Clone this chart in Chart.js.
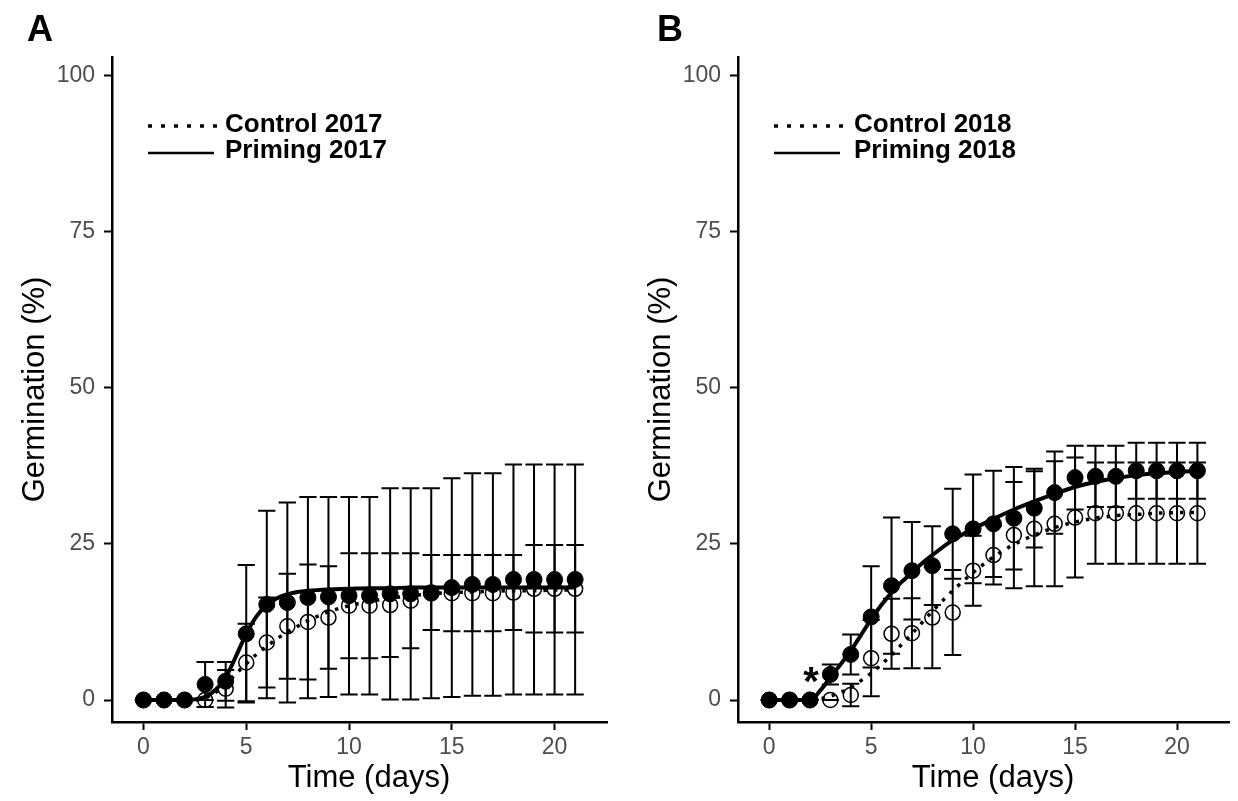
<!DOCTYPE html>
<html>
<head>
<meta charset="utf-8">
<script src="https://cdn.jsdelivr.net/npm/chart.js@4.4.1/dist/chart.umd.min.js"></script>
<style>
  html, body { margin: 0; padding: 0; background: #fff; }
  #wrap { position: relative; width: 1238px; height: 801px; }
  canvas { position: absolute; top: 0; }
</style>
</head>
<body>
<div id="wrap">
  <canvas id="chA" width="619" height="801" style="left:0"></canvas>
  <canvas id="chB" width="619" height="801" style="left:619px"></canvas>
</div>
<script>
const FONT = '"Liberation Sans", Arial, Helvetica, sans-serif';

const days = [0,1,2,3,4,5,6,7,8,9,10,11,12,13,14,15,16,17,18,19,20,21];
const xTicks = [0, 5, 10, 15, 20];
const yTicks = [0, 25, 50, 75, 100];

// Panel A - 2017 (mean and SD, %)
const primingA   = [0,0,0,2.5,3.0,10.6,15.3,15.6,16.4,16.5,16.7,16.7,17.0,17.0,17.1,18.0,18.5,18.5,19.3,19.3,19.3,19.3];
const primingSdA = [0,0,0,3.6,3.1,11.0,15.0,16.0,16.1,16.0,15.8,15.8,16.9,16.9,16.8,17.5,17.8,17.8,18.4,18.4,18.4,18.4];
const controlA   = [0,0,0,0,1.8,6.0,9.2,11.8,12.5,13.2,15.1,15.1,15.2,15.9,17.2,17.1,17.1,17.1,17.2,17.8,17.8,17.8];
const controlSdA = [0,0,0,0,3.0,6.2,7.2,8.4,9.2,8.2,8.4,8.4,8.3,7.6,6.0,6.1,6.1,6.1,6.0,7.0,7.0,7.0];

// Panel B - 2018
const primingB   = [0,0,0,4.1,7.3,13.3,18.3,20.7,21.5,26.6,27.4,28.2,29.1,30.7,33.2,35.6,35.8,35.8,36.7,36.7,36.7,36.7];
const primingSdB = [0,0,0,1.6,3.2,8.1,10.9,7.8,6.3,7.2,8.7,8.5,8.2,6.3,6.6,5.1,4.9,4.9,4.5,4.5,4.5,4.5];
const controlB   = [0,0,0,0,0.8,6.7,10.6,10.7,13.2,14.0,20.7,23.2,26.4,27.4,28.2,29.2,29.9,29.9,29.9,29.9,29.9,29.9];
const controlSdB = [0,0,0,0,1.8,6.1,5.6,5.6,8.1,6.8,5.6,4.7,8.5,9.2,10.0,9.6,8.1,8.1,8.1,8.1,8.1,8.1];

// fitted curves at curveX
const curveX      = [0,1,2,2.5,3,3.5,4,4.5,5,5.5,6,6.5,7,7.5,8,9,10,11,12,13,14,15,16,17,18,19,20,21];
const primingFitA = [0,0,0,0.1,0.5,1.6,3.6,7.0,10.6,13.4,15.2,16.3,16.9,17.3,17.5,17.7,17.8,17.9,17.9,18.0,18.0,18.0,18.0,18.0,18.0,18.0,18.0,18.0];
const controlFitA = [0,0,0,0,0.3,1.2,2.6,4.2,5.8,7.3,8.6,9.8,10.9,11.8,12.7,14.1,15.1,15.8,16.3,16.7,17.0,17.2,17.3,17.4,17.5,17.5,17.6,17.6];
const primingFitB = [0,0,0,1.5,3.6,5.7,7.9,10.4,12.9,15.2,17.2,18.9,20.4,21.9,23.2,25.6,27.4,29.0,30.5,31.8,33.0,34.1,34.9,35.5,36.0,36.3,36.5,36.7];
const controlFitB = [0,0,0,0.2,0.6,1.2,2.0,3.1,4.3,5.7,7.2,8.9,10.6,12.4,14.2,17.5,20.4,22.9,24.9,26.4,27.6,28.5,29.1,29.5,29.7,29.9,30.0,30.0];

const CAP = 0.42; // half width of error bar caps, in days

const pts = (xs, ys) => xs.map((x, i) => ({ x, y: ys[i] }));

// error bars drawn under the points
const errorBars = {
  id: 'errorBars',
  beforeDatasetsDraw(chart) {
    const { ctx, scales: { x, y } } = chart;
    ctx.save();
    ctx.strokeStyle = '#000';
    ctx.lineWidth = 2;
    chart.data.datasets.forEach(ds => {
      if (!ds.sd) return;
      ds.data.forEach((p, i) => {
        const sd = ds.sd[i];
        const px = x.getPixelForValue(p.x);
        const x0 = x.getPixelForValue(p.x - CAP), x1 = x.getPixelForValue(p.x + CAP);
        const yt = y.getPixelForValue(p.y + sd), yb = y.getPixelForValue(p.y - sd);
        ctx.beginPath();
        ctx.moveTo(px, yt); ctx.lineTo(px, yb);
        ctx.moveTo(x0, yt); ctx.lineTo(x1, yt);
        ctx.moveTo(x0, yb); ctx.lineTo(x1, yb);
        ctx.stroke();
      });
    });
    ctx.restore();
  }
};

// panel letter, axis titles, legend, asterisk
const panelDeco = {
  id: 'panelDeco',
  afterDraw(chart, args, o) {
    const { ctx, chartArea: a, scales: { x, y } } = chart;
    ctx.save();
    ctx.fillStyle = '#000';
    ctx.strokeStyle = '#000';

    ctx.font = 'bold 36px ' + FONT;
    ctx.textAlign = 'left';
    ctx.textBaseline = 'alphabetic';
    ctx.fillText(o.letter, o.letterX, 41);

    ctx.font = '31px ' + FONT;
    ctx.textAlign = 'center';
    ctx.fillText('Time (days)', (a.left + a.right) / 2 + 9.5, 787);
    ctx.save();
    ctx.translate(a.left - 68, (a.top + a.bottom) / 2);
    ctx.rotate(-Math.PI / 2);
    ctx.fillText('Germination (%)', 0, 0);
    ctx.restore();

    // legend
    const lx = a.left + 36;
    ctx.lineWidth = 3.5;
    ctx.setLineDash([4, 9]);
    ctx.beginPath(); ctx.moveTo(lx, 126); ctx.lineTo(lx + 69, 126); ctx.stroke();
    ctx.setLineDash([]);
    ctx.lineWidth = 2.5;
    ctx.beginPath(); ctx.moveTo(lx, 153); ctx.lineTo(lx + 66, 153); ctx.stroke();
    ctx.font = 'bold 26px ' + FONT;
    ctx.textAlign = 'left';
    ctx.fillText(o.labels[0], lx + o.textGap, 132);
    ctx.fillText(o.labels[1], lx + o.textGap, 158);

    if (o.star) {
      ctx.font = 'bold 40px ' + FONT;
      ctx.textAlign = 'center';
      ctx.fillText('*', x.getPixelForValue(o.star.x), y.getPixelForValue(o.star.y) + 22);
    }
    ctx.restore();
  }
};

function makeChart(id, prim, primSd, ctrl, ctrlSd, primFit, ctrlFit, deco, leftWidth, rightPad) {
  return new Chart(document.getElementById(id), {
    type: 'scatter',
    data: {
      datasets: [
        { data: pts(curveX, primFit), showLine: true, borderColor: '#000', borderWidth: 4,
          pointRadius: 0, cubicInterpolationMode: 'monotone' },
        { data: pts(curveX, ctrlFit), showLine: true, borderColor: '#000', borderWidth: 3.5,
          borderDash: [3.5, 7], pointRadius: 0, cubicInterpolationMode: 'monotone' },
        { data: pts(days, prim), sd: primSd, pointRadius: 8, pointBorderWidth: 1,
          backgroundColor: '#000', borderColor: '#000' },
        { data: pts(days, ctrl), sd: ctrlSd, pointRadius: 7.5, pointBorderWidth: 1.5,
          backgroundColor: 'rgba(0,0,0,0)', borderColor: '#000' }
      ]
    },
    options: {
      responsive: false,
      animation: false,
      devicePixelRatio: 1,
      layout: { padding: { top: 57, right: rightPad, bottom: 0, left: 0 } },
      plugins: { legend: { display: false }, tooltip: { enabled: false }, panelDeco: deco },
      scales: {
        x: {
          type: 'linear', min: -1.53, max: 22.55,
          afterFit: s => { s.height = 79; },
          afterBuildTicks: s => { s.ticks = xTicks.map(v => ({ value: v })); },
          grid: { drawOnChartArea: false, drawTicks: true, tickLength: 8, tickWidth: 2, tickColor: '#000' },
          border: { display: true, color: '#000', width: 2.5 },
          ticks: { color: '#4d4d4d', font: { family: FONT, size: 23 }, padding: 4, maxRotation: 0 }
        },
        y: {
          type: 'linear', min: -3.52, max: 102.93,
          afterFit: s => { s.width = leftWidth; },
          afterBuildTicks: s => { s.ticks = yTicks.map(v => ({ value: v })); },
          grid: { drawOnChartArea: false, drawTicks: true, tickLength: 8, tickWidth: 2, tickColor: '#000' },
          border: { display: true, color: '#000', width: 2.5 },
          ticks: { color: '#4d4d4d', font: { family: FONT, size: 23 }, padding: 9 }
        }
      }
    },
    plugins: [errorBars, panelDeco]
  });
}

makeChart('chA', primingA, primingSdA, controlA, controlSdA, primingFitA, controlFitA,
  { letter: 'A', letterX: 27, labels: ['Control 2017', 'Priming 2017'], textGap: 77 }, 112, 12);
makeChart('chB', primingB, primingSdB, controlB, controlSdB, primingFitB, controlFitB,
  { letter: 'B', letterX: 38, labels: ['Control 2018', 'Priming 2018'], textGap: 80, star: { x: 2.05, y: 4.4 } }, 119, 5);
</script>
</body>
</html>
